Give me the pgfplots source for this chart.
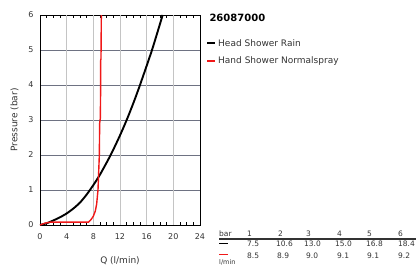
\documentclass[border=0pt]{standalone}
\usepackage{pgfplots}
\pgfplotsset{compat=1.18}
\usepackage{fontspec}
\setmainfont{DejaVu Sans}
\definecolor{txt}{HTML}{333333}
\definecolor{vgrid}{HTML}{C4C4C4}
\definecolor{hgrid}{HTML}{6E7282}
\definecolor{myred}{HTML}{F01818}
\begin{document}
\begin{tikzpicture}[x=1pt,y=1pt]
\useasboundingbox (0,0) rectangle (416,265);
\begin{axis}[
  at={(40pt,40pt)}, anchor=south west,
  scale only axis, width=160pt, height=210pt,
  xmin=0, xmax=24, ymin=0, ymax=6,
  xtick={0,4,...,24}, ytick={0,1,...,6},
  minor x tick num=3,
  axis line style={black, line width=0.8pt},
  tick style={black, line width=0.6pt},
  major tick length=0pt, minor tick length=3pt,
  xtick pos=both, ytick pos=left,
  tick align=inside,
  extra x ticks={4,8,12,16,20},
  extra x tick labels={},
  extra x tick style={grid=major, major grid style={vgrid, line width=0.9pt}},
  ymajorgrids, major grid style={hgrid, line width=0.6pt},
  ticklabel style={font=\fontsize{8}{10}\selectfont, text=txt},
  xticklabel style={yshift=-5pt},
  yticklabel style={xshift=-3pt},
  /pgf/number format/assume math mode=true,
  xlabel={Q (l/min)}, ylabel={Pressure (bar)},
  label style={font=\fontsize{9}{11}\selectfont, text=txt},
  xlabel style={at={(axis description cs:0.5,0)}, yshift=-28pt, anchor=north},
  ylabel style={at={(axis description cs:0,0.5)}, anchor=south, yshift=18pt},
  legend cell align=left,
  legend style={at={(axis description cs:1.0375,0.895)}, anchor=north west, draw=none, fill=none,
    font=\fontsize{9}{11}\selectfont, text=txt, row sep=5.5pt, inner sep=0pt,
    /tikz/every even column/.append style={column sep=3pt}},
  legend image code/.code={\draw[#1, line width=2pt] (0pt,0pt) -- (8pt,0pt);},
  clip=false,
]
\addplot[black, line width=1.9pt, smooth, tension=0.4] coordinates {
(0,0) (1,0.05) (2,0.13) (3,0.22) (4,0.33) (5,0.47) (6,0.64) (7,0.87) (8,1.14) (9,1.44) (10.6,2) (12,2.56) (13,3) (14,3.48) (15,4) (16.8,5) (18.4,6)};
\addlegendentry{Head Shower Rain}
\addplot[myred, line width=1.4pt] coordinates {
(0,0) (0.7,0.05) (1.5,0.08) (7.25,0.08) (7.6,0.14) (8.0,0.25) (8.3,0.4) (8.5,0.6) (8.6,0.8) (8.7,1.0) (8.8,1.5) (8.9,2) (8.95,2.9) (9.05,3.05) (9.1,4) (9.1,4.7) (9.15,4.75) (9.2,6)};
\addlegendentry{Hand Shower Normalspray}
\end{axis}
% title
\node[anchor=west, font=\bfseries\fontsize{10}{12}\selectfont, text=black] at (206,247) {26087000};
% table
\begin{scope}[every node/.style={anchor=base west, inner sep=0pt, font=\fontsize{7.5}{9}\selectfont, text=txt}]
\node at (219,28.5) {bar};
\node at (247,28.5) {1};
\node at (278,28.5) {2};
\node at (306,28.5) {3};
\node at (337,28.5) {4};
\node at (367,28.5) {5};
\node at (398,28.5) {6};
\draw[txt, line width=1.2pt] (219,26) -- (416,26);
\draw[black, line width=1.6pt] (219,21.5) -- (228,21.5);
\node at (247,18.3) {7.5};
\node at (276,18.3) {10.6};
\node at (304,18.3) {13.0};
\node at (335,18.3) {15.0};
\node at (366,18.3) {16.8};
\node at (398,18.3) {18.4};
\draw[myred, line width=1.6pt] (219,10.5) -- (228,10.5);
\node at (247,6.3) {8.5};
\node at (277,6.3) {8.9};
\node at (306,6.3) {9.0};
\node at (337,6.3) {9.1};
\node at (367,6.3) {9.1};
\node at (398,6.3) {9.2};
\node[font=\fontsize{6.5}{8}\selectfont] at (219,0.8) {l/min};
\end{scope}
\end{tikzpicture}
\end{document}
